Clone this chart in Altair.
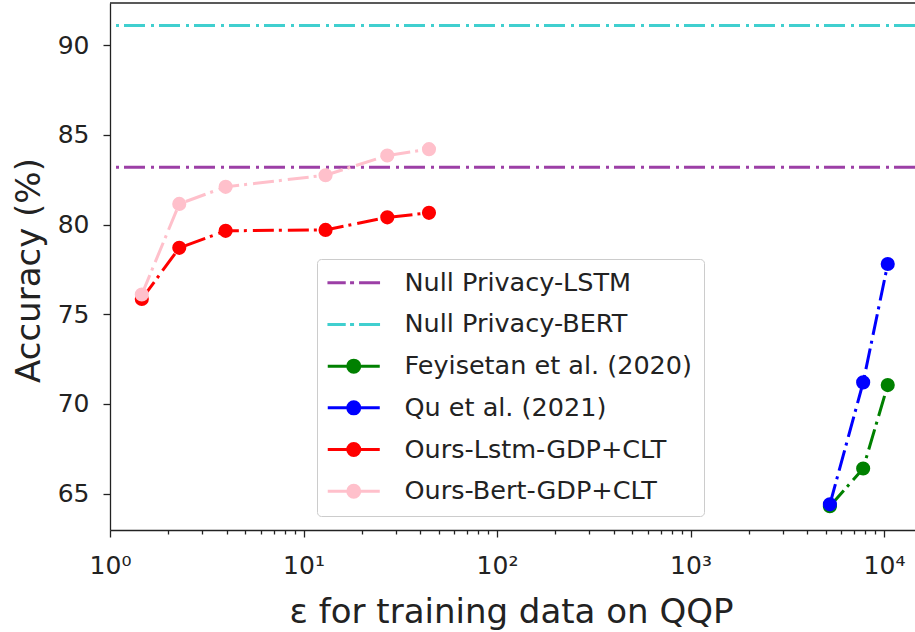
import altair as alt
import pandas as pd

# ---- data ----
null_names = ["Null Privacy-LSTM", "Null Privacy-BERT"]
null_acc = [83.2, 91.1]

fey_name = "Feyisetan et al. (2020)"
fey_eps = [5250, 7800, 10450]
fey_acc = [64.3, 66.4, 71.05]

qu_name = "Qu et al. (2021)"
qu_eps = [5250, 7800, 10450]
qu_acc = [64.4, 71.2, 77.8]

lstm_name = "Ours-Lstm-GDP+CLT"
bert_name = "Ours-Bert-GDP+CLT"
ours_eps = [1.46, 2.28, 3.96, 13.0, 27.1, 44.5]
lstm_acc = [75.85, 78.7, 79.65, 79.7, 80.4, 80.65]
bert_acc = [76.1, 81.15, 82.1, 82.75, 83.85, 84.2]

series = null_names + [fey_name, qu_name, lstm_name, bert_name]
colors = ["#9c3fa6", "#40cfcf", "green", "blue", "red", "pink"]

x_major = [1, 10, 100, 1000, 10000]
x_minor = [m * 10 ** k for k in range(5) for m in range(2, 10) if m * 10 ** k < 14454]
y_ticks = [65, 70, 75, 80, 85, 90]

# legend symbol shapes (stroked paths; the marker disc is drawn as concentric rings)
dashdot = "M-2.63,0H-0.8M-0.37,0H0.03M0.53,0H2.63"
linedot = ("M-2.6,0H2.6"
           "M0.6,0A0.6,0.6,0,1,1,-0.6,0A0.6,0.6,0,1,1,0.6,0"
           "M0.32,0A0.32,0.32,0,1,1,-0.32,0A0.32,0.32,0,1,1,0.32,0"
           "M0.08,0A0.08,0.08,0,1,1,-0.08,0A0.08,0.08,0,1,1,0.08,0")
shapes = [dashdot, dashdot, linedot, linedot, linedot, linedot]

# ---- tables ----
null_df = pd.DataFrame({"series": null_names, "acc": null_acc})
rows = []
for name, xs, ys in [(fey_name, fey_eps, fey_acc), (qu_name, qu_eps, qu_acc),
                     (lstm_name, ours_eps, lstm_acc), (bert_name, ours_eps, bert_acc)]:
    for xv, yv in zip(xs, ys):
        rows.append({"series": name, "eps": xv, "acc": yv})
pts = pd.DataFrame(rows)
leg_df = pd.DataFrame({"series": series, "acc": [null_acc[0]] * len(series)})

FONT = "DejaVu Sans"
DASH = [21, 5, 3, 6]

xscale = alt.Scale(type="log", domain=[1, 14454])
yscale = alt.Scale(domain=[62.97, 92.35], nice=False, zero=False)
# mark colour scale (domain order differs from the legend scales so that the
# disabled colour legend is not merged with the visible legend)
cscale = alt.Scale(domain=series[::-1], range=colors[::-1])

label_expr = ("datum.value == 1 ? '10⁰' : datum.value == 10 ? '10¹' : "
              "datum.value == 100 ? '10²' : datum.value == 1000 ? '10³' : "
              "datum.value == 10000 ? '10⁴' : ''")

xaxis = alt.Axis(
    values=x_major + x_minor, labelExpr=label_expr, grid=False, labelFlush=False,
    tickSize={"condition": {"test": "indexof([1,10,100,1000,10000], datum.value) >= 0", "value": 7},
              "value": 4},
    labelFontSize=25, labelPadding=16, labelColor="#222", labelFont=FONT,
    title="ε for training data on QQP", titleFontSize=34, titleFont=FONT,
    titleFontWeight="normal", titleColor="#222",
    titleX=401, titleY=92, titleBaseline="alphabetic", titleAlign="center",
    domainColor="#222", domainWidth=1.3, tickColor="#222", tickWidth=1.3,
)
yaxis = alt.Axis(
    values=y_ticks, grid=False, tickSize=7,
    labelFontSize=25, labelPadding=14, labelColor="#222", labelFont=FONT,
    title="Accuracy (%)", titleFontSize=34, titleFont=FONT,
    titleFontWeight="normal", titleColor="#222",
    titleX=-71, titleY=267, titleBaseline="alphabetic", titleAlign="center",
    domainColor="#222", domainWidth=1.3, tickColor="#222", tickWidth=1.3,
)

legend = alt.Legend(
    orient="none", legendX=207, legendY=256, title=None,
    labelFontSize=25.5, labelFont=FONT, labelColor="#222", labelLimit=0,
    symbolSize=400, symbolStrokeWidth=3, rowPadding=14.7, padding=11,
    symbolOffset=13, labelOffset=38,
    strokeColor="#cccccc", fillColor="rgba(255,255,255,0.85)", cornerRadius=4,
)

rules = alt.Chart(null_df).mark_rule(strokeWidth=3, strokeDash=DASH).encode(
    y=alt.Y("acc:Q", scale=yscale, axis=yaxis),
    color=alt.Color("series:N", scale=cscale, legend=None),
)

lines = alt.Chart(pts).mark_line(strokeWidth=3, strokeDash=DASH).encode(
    x=alt.X("eps:Q", scale=xscale, axis=xaxis),
    y=alt.Y("acc:Q", scale=yscale, axis=yaxis),
    color=alt.Color("series:N", scale=cscale, legend=None),
    detail="series:N",
)

points = alt.Chart(pts).mark_circle(size=200, opacity=1).encode(
    x=alt.X("eps:Q", scale=xscale, axis=xaxis),
    y=alt.Y("acc:Q", scale=yscale, axis=yaxis),
    color=alt.Color("series:N", scale=cscale, legend=None),
)

# invisible layer that only carries the legend
legend_layer = alt.Chart(leg_df).mark_point(filled=False, strokeWidth=3, opacity=0).encode(
    y=alt.Y("acc:Q", scale=yscale, axis=yaxis),
    stroke=alt.Stroke("series:N", scale=alt.Scale(domain=series, range=colors), legend=legend),
    shape=alt.Shape("series:N", scale=alt.Scale(domain=series, range=shapes), legend=legend),
)

top_border = alt.Chart(pd.DataFrame({"k": [0]})).mark_rule(color="#222", strokeWidth=1.3).encode(
    y=alt.value(0)
)

chart = (
    alt.layer(rules, lines, points, legend_layer, top_border)
    .properties(
        width=805, height=527,
        padding={"left": 110, "top": 3, "right": 0, "bottom": 102},
        autosize="none",
    )
    .configure(background="white", font=FONT)
    .configure_view(stroke=None)
)

chart.save("out.html", embed_options={"renderer": "svg", "actions": False})
